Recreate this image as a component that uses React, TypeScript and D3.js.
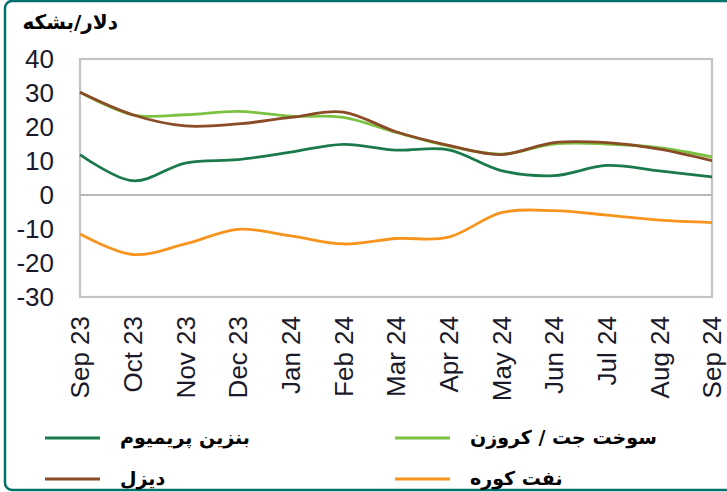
import React from 'react';
import * as d3 from 'd3';

// monthly spreads, $/bbl
const months = ['Sep 23', 'Oct 23', 'Nov 23', 'Dec 23', 'Jan 24', 'Feb 24', 'Mar 24', 'Apr 24', 'May 24', 'Jun 24', 'Jul 24', 'Aug 24', 'Sep 24'];
const gasoline = [11.9, 4.2, 9.4, 10.4, 12.6, 14.9, 13.2, 13.3, 7.2, 5.7, 8.7, 7.1, 5.3];
const jetKero = [30.2, 23.6, 23.6, 24.6, 23.2, 22.8, 18.4, 14.4, 12.0, 15.0, 15.0, 13.9, 11.2];
const diesel = [30.2, 23.6, 20.3, 20.9, 22.8, 24.4, 18.6, 14.6, 11.9, 15.4, 15.4, 13.5, 10.1];
const fuelOil = [-11.5, -17.5, -14.4, -10.1, -12.0, -14.4, -12.8, -12.4, -5.2, -4.6, -5.9, -7.4, -8.1];
const yTicks = [40, 30, 20, 10, 0, -10, -20, -30];

const series = [
  { name: 'سوخت جت / کروزن', values: jetKero, color: '#7cc242' },
  { name: 'دیزل', values: diesel, color: '#8a4b27' },
  { name: 'بنزین پریمیوم', values: gasoline, color: '#1b7a4b' },
  { name: 'نفت کوره', values: fuelOil, color: '#f7941d' },
];

const W = 727, H = 492;
const left = 80, right = 712, top = 59, bottom = 297;

export default function App() {
  const x = d3.scalePoint<string>().domain(months).range([left, right]);
  const y = d3.scaleLinear().domain([-30, 40]).range([bottom, top]);

  const line = (vals: number[]) =>
    d3.line<number>()
      .x((d, i) => x(months[i]) as number)
      .y(d => y(d))
      .curve(d3.curveCardinal.tension(0))(vals) || '';

  const legend = [
    { s: series[2], lx: 45, ly: 438 },
    { s: series[1], lx: 45, ly: 479 },
    { s: series[0], lx: 395, ly: 438 },
    { s: series[3], lx: 395, ly: 479 },
  ];

  return (
    <div style={{ position: 'fixed', left: 0, top: 0 }}>
      <svg width={W} height={H} style={{ display: 'block', background: '#fff' }}>
        <rect x={5} y={1} width={800} height={489} rx={7} fill="none" stroke="#00706c" strokeWidth={2.5} />

        <text x={118} y={29} textAnchor="end" fontFamily="DejaVu Sans" fontWeight="bold" fontSize={20} fill="#000">دلار/بشکه</text>

        {/* plot frame */}
        <rect x={left} y={top} width={right - left} height={bottom - top} fill="none" stroke="#c4c4c4" strokeWidth={2.2} />
        <line x1={left} x2={right} y1={y(0)} y2={y(0)} stroke="#b8b8b8" strokeWidth={2} />

        {yTicks.map(t => (
          <text key={t} x={54} y={y(t)} dy="0.36em" textAnchor="end" fontFamily="Liberation Sans" fontSize={26} fill="#1a1a2a">{t}</text>
        ))}

        {months.map(m => (
          <text key={m} transform={`translate(${x(m)},316) rotate(-90)`} dy="0.36em" textAnchor="end" fontFamily="Liberation Sans" fontSize={26} fill="#1a1a2a">{m}</text>
        ))}

        {series.map(s => (
          <path key={s.name} d={line(s.values)} fill="none" stroke={s.color} strokeWidth={2.8} />
        ))}

        {legend.map(({ s, lx, ly }) => (
          <g key={s.name}>
            <line x1={lx} x2={lx + 55} y1={ly} y2={ly} stroke={s.color} strokeWidth={3} />
            <text x={lx + 75} y={ly} dy="0.32em" textAnchor="start" fontFamily="DejaVu Sans" fontWeight="bold" fontSize={19} fill="#000">{s.name}</text>
          </g>
        ))}
      </svg>
    </div>
  );
}
